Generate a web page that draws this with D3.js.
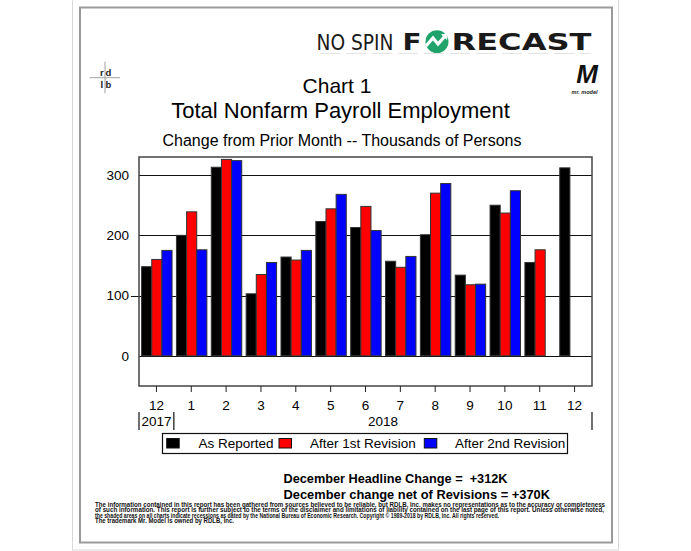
<!DOCTYPE html>
<html><head><meta charset="utf-8">
<script src="https://cdn.jsdelivr.net/npm/d3@7"></script>
<style>
html,body{margin:0;padding:0;background:#fff;}
svg{display:block;font-family:"Liberation Sans",Arial,sans-serif;}
</style></head>
<body>
<script>
// ---- data ----
const categories = ["2017-12","2018-01","2018-02","2018-03","2018-04","2018-05","2018-06","2018-07","2018-08","2018-09","2018-10","2018-11","2018-12"];
const tickLabels = ["12","1","2","3","4","5","6","7","8","9","10","11","12"];
const seriesNames = ["As Reported","After 1st Revision","After 2nd Revision"];
const asReported = [148,200,313,103,164,223,213,157,201,134,250,155,312];
const after1st   = [160,239,326,135,159,244,248,147,270,118,237,176,null];
const after2nd   = [175,176,324,155,175,268,208,165,286,119,274,null,null];
const yTicks = [0,100,200,300];
const yearLabels = ["2017","2018"];
const colors = ["#000000","#ff0000","#0000ff"];

const W = 691, H = 551;
const svg = d3.select("body").append("svg").attr("width",W).attr("height",H);

// page frames
svg.append("rect").attr("x",72.5).attr("y",-2).attr("width",546).attr("height",552)
  .attr("fill","none").attr("stroke","#d8d8d8").attr("stroke-width",1);
svg.append("rect").attr("x",80).attr("y",7.5).attr("width",532).attr("height",535)
  .attr("fill","#fff").attr("stroke","#9a9a9a").attr("stroke-width",2);

// header logo
svg.append("text").attr("x",316.5).attr("y",49.5).attr("font-family","'DejaVu Sans',sans-serif")
  .attr("font-size",21).attr("font-weight","normal").attr("fill","#1a1a1a")
  .attr("textLength",77).attr("lengthAdjust","spacingAndGlyphs").text("NO SPIN");
svg.append("text").attr("x",402.5).attr("y",50).attr("font-family","'DejaVu Sans',sans-serif")
  .attr("font-size",23).attr("font-weight","bold").attr("fill","#1a1a1a")
  .attr("textLength",19).attr("lengthAdjust","spacingAndGlyphs").text("F");
svg.append("circle").attr("cx",437).attr("cy",41.7).attr("r",11.5).attr("fill","#1fa36b");
svg.append("path").attr("d","M426,46 L433,38 L438,44 L446,35").attr("fill","none")
  .attr("stroke","#fff").attr("stroke-width",3.2).attr("stroke-linejoin","miter");
svg.append("path").attr("d","M441,34.5 L448,33 L447,40 Z").attr("fill","#fff");
svg.append("text").attr("x",451.5).attr("y",50).attr("font-family","'DejaVu Sans',sans-serif")
  .attr("font-size",23).attr("font-weight","bold").attr("fill","#1a1a1a")
  .attr("textLength",140).attr("lengthAdjust","spacingAndGlyphs").text("RECAST");
svg.append("line").attr("x1",320).attr("x2",590).attr("y1",53.5).attr("y2",53.5)
  .attr("stroke","#e4e4e4").attr("stroke-width",1).attr("stroke-dasharray","20,6");

// rdlb logo
const lg = svg.append("g");
lg.append("line").attr("x1",89.5).attr("x2",120).attr("y1",77.7).attr("y2",77.7).attr("stroke","#a0a0a0").attr("stroke-width",1);
lg.append("line").attr("x1",105).attr("x2",105).attr("y1",61.7).attr("y2",93.3).attr("stroke","#a0a0a0").attr("stroke-width",1);
[["r",101.8,75.5],["d",108.5,75.5],["l",101.8,88],["b",108.5,88]].forEach(([t,x,y])=>{
  lg.append("text").attr("x",x).attr("y",y).attr("text-anchor","middle")
    .attr("font-family","'Liberation Sans Narrow','Liberation Sans',sans-serif")
    .attr("font-size",9.5).attr("font-weight","bold").attr("fill","#222").text(t);
});

// Mr Model logo
svg.append("text").attr("x",587).attr("y",82.5).attr("text-anchor","middle")
  .attr("font-family","'Liberation Sans Narrow','Liberation Sans',sans-serif")
  .attr("font-size",26).attr("font-weight","bold").attr("font-style","italic").attr("fill","#111").text("M");
svg.append("text").attr("x",584.5).attr("y",94).attr("text-anchor","middle")
  .attr("font-family","'Liberation Sans Narrow','Liberation Sans',sans-serif")
  .attr("font-size",5.5).attr("font-weight","bold").attr("font-style","italic").attr("fill","#222").text("mr. model");

// titles
svg.append("text").attr("x",337).attr("y",93.3).attr("text-anchor","middle").attr("font-size",21).attr("fill","#000").text("Chart 1");
svg.append("text").attr("x",340.5).attr("y",118.3).attr("text-anchor","middle").attr("font-size",22).attr("fill","#000").text("Total Nonfarm Payroll Employment");
svg.append("text").attr("x",342).attr("y",145.5).attr("text-anchor","middle").attr("font-size",16).attr("fill","#000").text("Change from Prior Month -- Thousands of Persons");

// ---- plot ----
const pl = 139, pr = 592, pt = 157, pb = 386;
const x = d3.scaleBand().domain(categories).range([pl,pr]).padding(0);
const xs = d3.scaleBand().domain(seriesNames).range([2.6, x.bandwidth()-1.8]).padding(0);
const y = d3.scaleLinear().domain([-50,330]).range([pb,pt]);
const series = [asReported, after1st, after2nd];

// gridlines
svg.append("g").selectAll("line").data(yTicks).join("line")
  .attr("x1",d=> d===100 ? pl-8 : pl).attr("x2",pr)
  .attr("y1",d=>Math.round(y(d))+0.5).attr("y2",d=>Math.round(y(d))+0.5)
  .attr("stroke","#111").attr("stroke-width",1);

// bars
series.forEach((vals,si)=>{
  svg.append("g").selectAll("rect").data(categories.map((c,i)=>({c,v:vals[i]})).filter(d=>d.v!=null))
    .join("rect")
    .attr("x",d=>x(d.c)+xs(seriesNames[si]))
    .attr("width",xs.bandwidth())
    .attr("y",d=>y(d.v))
    .attr("height",d=>y(0)-y(d.v))
    .attr("fill",colors[si])
    .attr("stroke","#333").attr("stroke-width",1);
});

// plot frame
svg.append("rect").attr("x",pl).attr("y",pt).attr("width",pr-pl).attr("height",pb-pt)
  .attr("fill","none").attr("stroke","#444").attr("stroke-width",1.5);

// y axis labels
const yAxis = d3.axisLeft(y).tickValues(yTicks).tickSize(0).tickPadding(10);
const yg = svg.append("g").attr("transform",`translate(${pl},0)`).call(yAxis);
yg.select(".domain").remove();
yg.selectAll("text").attr("font-size",13.5).attr("font-family","'Liberation Sans',Arial,sans-serif").attr("fill","#000");

// x axis
const xAxis = d3.axisBottom(x).tickFormat((d,i)=>tickLabels[i]).tickSize(6).tickPadding(8);
const xg = svg.append("g").attr("transform",`translate(0,${pb})`).call(xAxis);
xg.select(".domain").remove();
xg.selectAll("line").attr("stroke","#222");
xg.selectAll("text").attr("font-size",13.5).attr("font-family","'Liberation Sans',Arial,sans-serif").attr("fill","#000");

// year separators and labels
const sep = [pl, x(categories[1]), pr];
svg.append("g").selectAll("line").data(sep).join("line")
  .attr("x1",d=>d).attr("x2",d=>d).attr("y1",412).attr("y2",430)
  .attr("stroke","#111").attr("stroke-width",1.2);
svg.append("text").attr("x",(sep[0]+sep[1])/2).attr("y",425.5).attr("text-anchor","middle").attr("font-size",13.5).text(yearLabels[0]);
svg.append("text").attr("x",(sep[1]+sep[2])/2).attr("y",425.5).attr("text-anchor","middle").attr("font-size",13.5).text(yearLabels[1]);

// legend
svg.append("rect").attr("x",162.5).attr("y",433.5).attr("width",405).attr("height",20)
  .attr("fill","#fff").attr("stroke","#111").attr("stroke-width",1.2);
const legPos = [[166.7,198.5],[279,310],[424.3,455]];
seriesNames.forEach((n,i)=>{
  svg.append("rect").attr("x",legPos[i][0]).attr("y",438.5).attr("width",12.5).attr("height",9.5)
    .attr("fill",colors[i]).attr("stroke","#111").attr("stroke-width",1);
  svg.append("text").attr("x",legPos[i][1]).attr("y",448).attr("font-size",13.5).attr("fill","#000").text(n);
});

// headline notes
svg.append("text").attr("x",283.5).attr("y",482.5).attr("font-size",12).attr("font-weight","bold")
  .attr("textLength",224).attr("lengthAdjust","spacingAndGlyphs").attr("xml:space","preserve").text("December Headline Change =  +312K");
svg.append("text").attr("x",283.5).attr("y",499).attr("font-size",12).attr("font-weight","bold")
  .attr("textLength",266.5).attr("lengthAdjust","spacingAndGlyphs").text("December change net of Revisions = +370K");

// footnote
const foot = [
 ["The information contained in this report has been gathered from sources believed to be reliable, but RDLB, Inc. makes no representations as to the accuracy or completeness",510],
 ["of such information. This report is further subject to the terms of the disclaimer and limitations of liability contained on the last page of this report.  Unless otherwise noted,",509],
 ["the shaded areas on all charts indicate recessions as dated by the National Bureau of Economic Research. Copyright \u00a9 1989-2018  by RDLB, Inc.  All rights reserved.",404],
 ["The trademark Mr. Model is owned by RDLB, Inc.",139]
];
foot.forEach(([t,len],i)=>{
  svg.append("text").attr("x",95).attr("y",506.5+i*5.5)
    .attr("font-family","'Liberation Sans Narrow','Liberation Sans',sans-serif")
    .attr("font-size",6.3).attr("font-weight","bold").attr("fill","#111")
    .attr("textLength",len).attr("lengthAdjust","spacingAndGlyphs").text(t);
});
</script>
</body></html>
